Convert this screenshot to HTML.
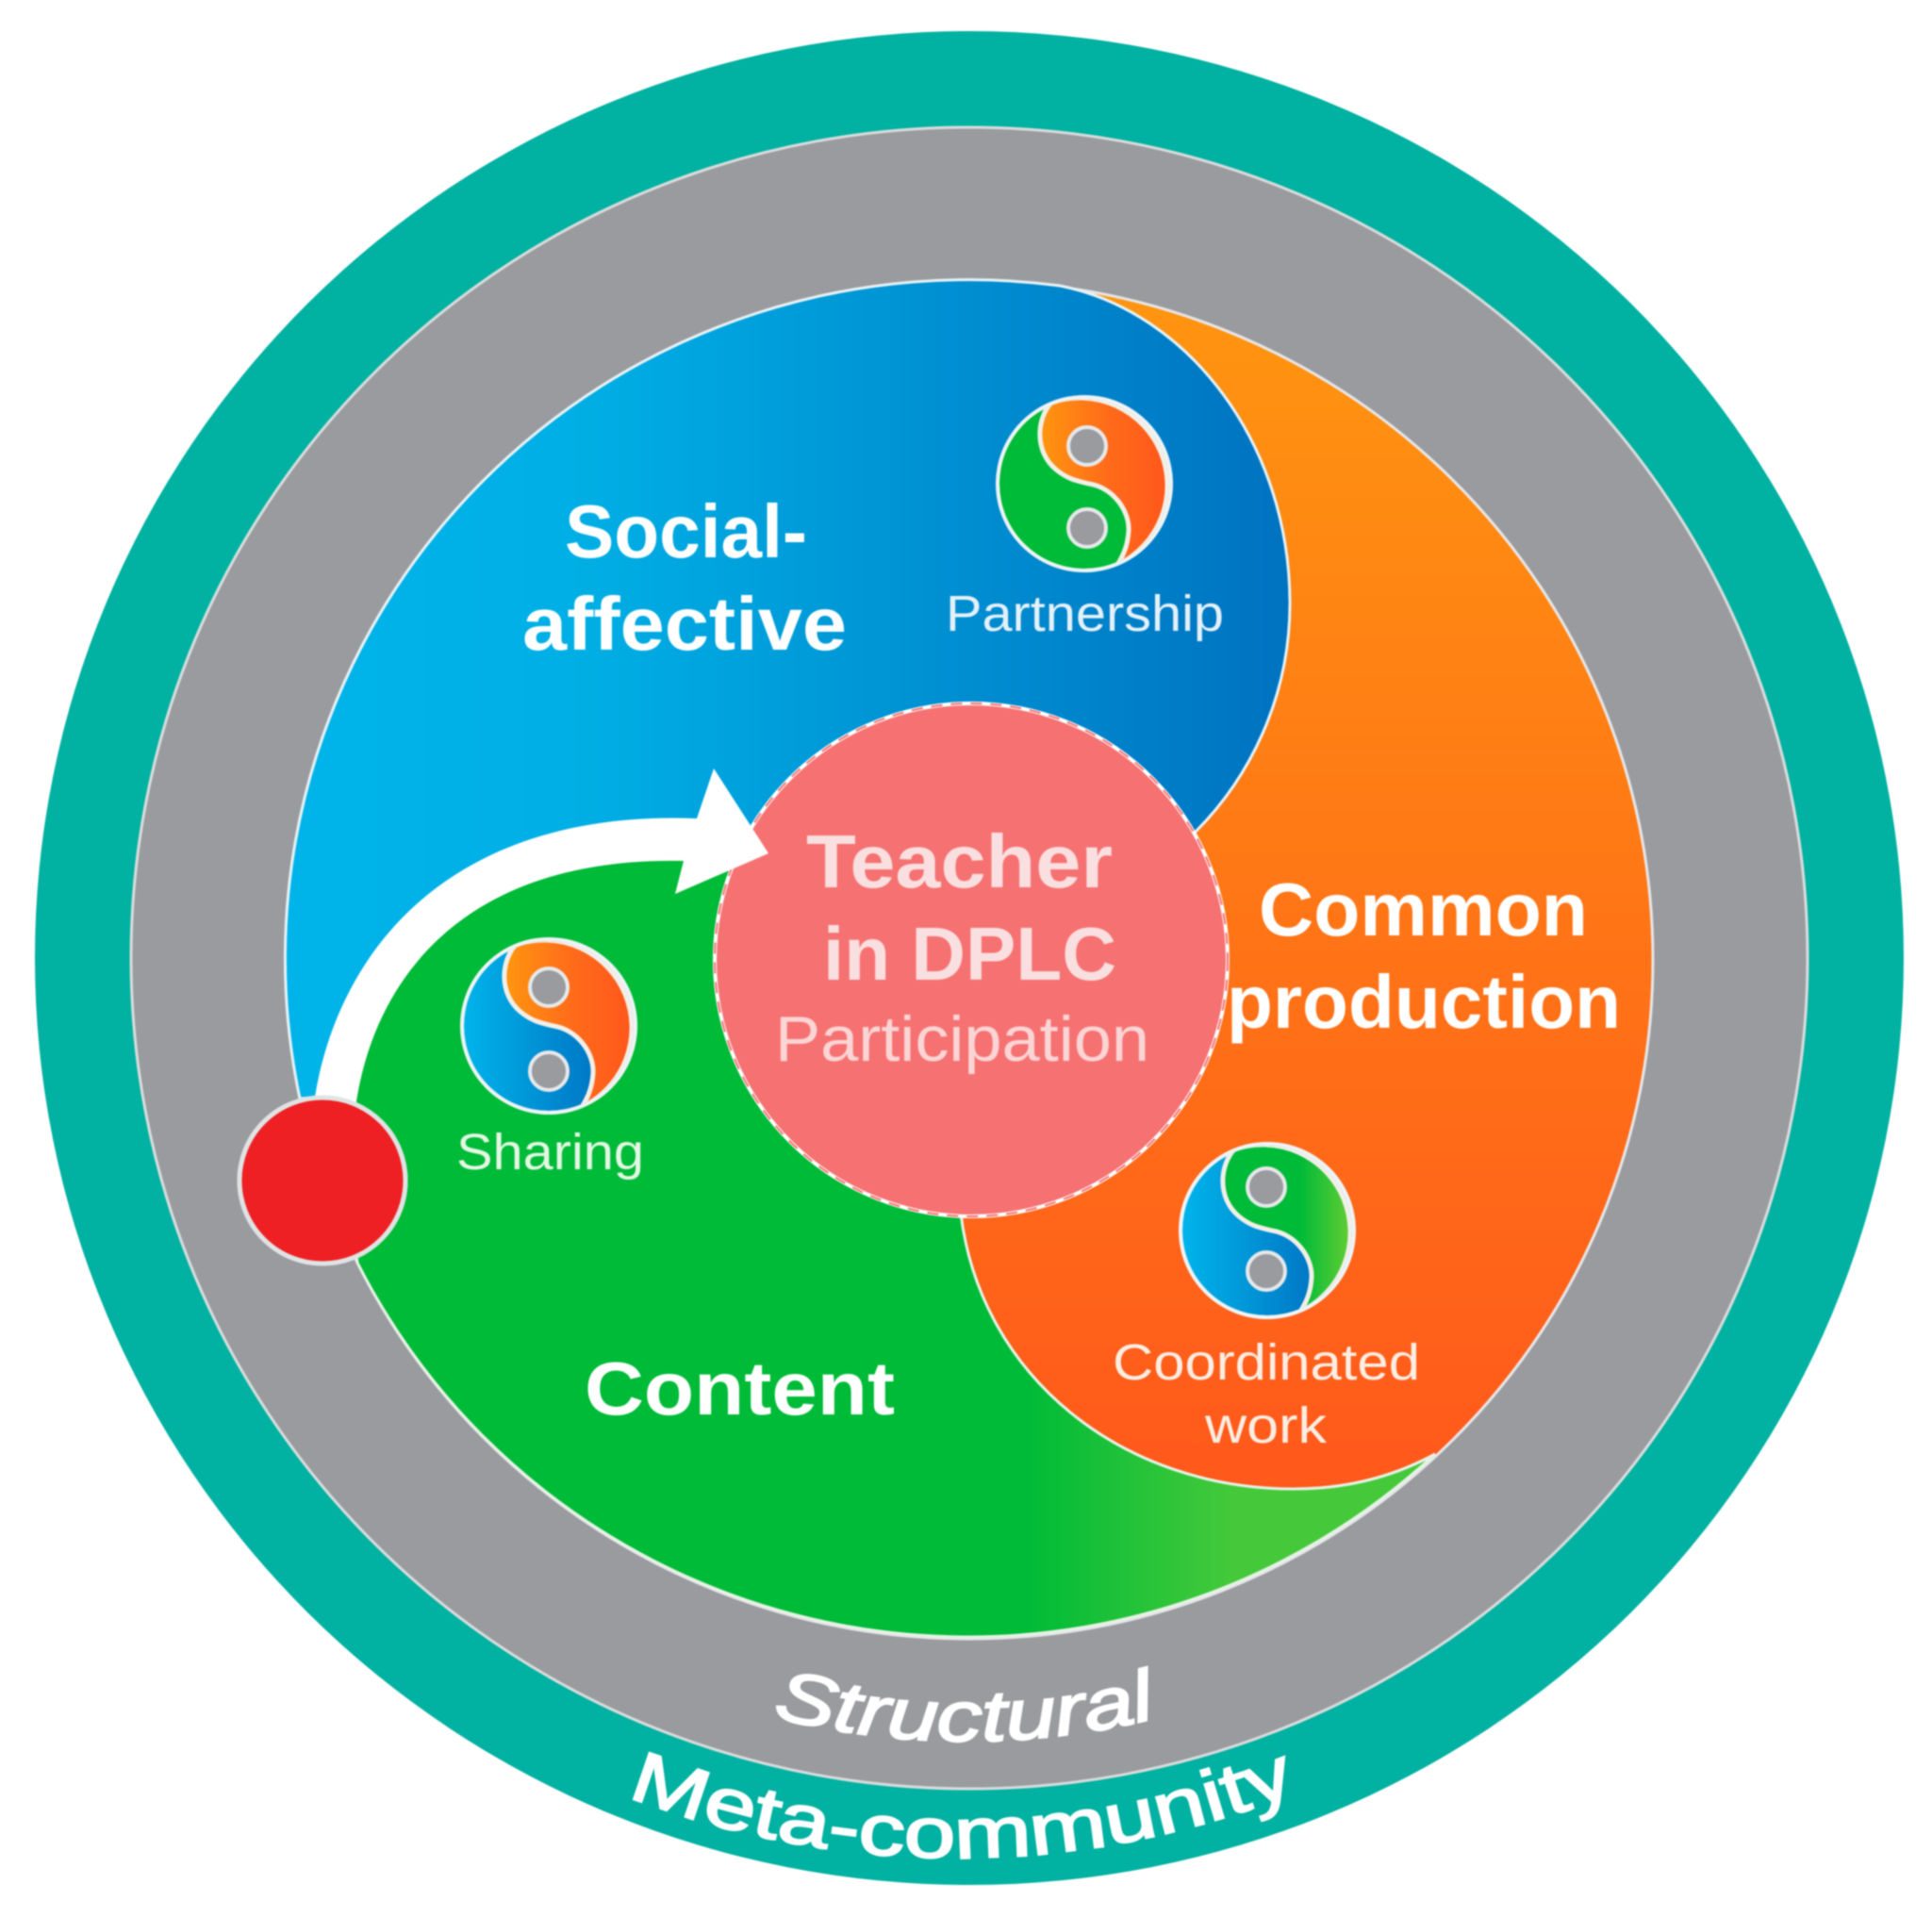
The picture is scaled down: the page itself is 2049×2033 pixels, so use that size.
<!DOCTYPE html>
<html>
<head>
<meta charset="utf-8">
<style>
html,body{margin:0;padding:0;background:#fff;width:2049px;height:2033px;overflow:hidden}
svg{display:block;filter:blur(0.9px)}
text{font-family:"Liberation Sans",sans-serif;fill:#fff}
.b{font-weight:700;font-size:80px}
.r{font-size:54px}
</style>
</head>
<body>
<svg width="2049" height="2033" viewBox="0 0 2049 2033" xmlns="http://www.w3.org/2000/svg">
<defs>
<linearGradient id="blue" gradientUnits="userSpaceOnUse" x1="303" y1="0" x2="1368" y2="0"><stop offset="0" stop-color="#00b4ea"/><stop offset="0.3" stop-color="#00aee4"/><stop offset="1" stop-color="#0072c0"/></linearGradient>
<linearGradient id="orange" gradientUnits="userSpaceOnUse" x1="0" y1="303" x2="0" y2="1579"><stop offset="0" stop-color="#ff9510"/><stop offset="1" stop-color="#ff581b"/></linearGradient>
<linearGradient id="green" gradientUnits="userSpaceOnUse" x1="1090" y1="0" x2="1310" y2="0"><stop offset="0" stop-color="#00bb37"/><stop offset="1" stop-color="#45c93a"/></linearGradient>
<linearGradient id="iBlue" gradientUnits="userSpaceOnUse" x1="-90" y1="0" x2="50" y2="0"><stop offset="0" stop-color="#00b4ea"/><stop offset="1" stop-color="#0076c4"/></linearGradient>
<linearGradient id="iOrange" gradientUnits="userSpaceOnUse" x1="-45" y1="0" x2="85" y2="0"><stop offset="0" stop-color="#ff9510"/><stop offset="0.55" stop-color="#ff6a1a"/><stop offset="1" stop-color="#ff581b"/></linearGradient>
<linearGradient id="iGreen" gradientUnits="userSpaceOnUse" x1="35" y1="0" x2="85" y2="0"><stop offset="0" stop-color="#00bb37"/><stop offset="1" stop-color="#5ccc34"/></linearGradient>
<clipPath id="ic"><circle r="90"/></clipPath>
<path id="arcS" d="M819,1820.6 A830,825 0 0 0 1379,1768"/>
<path id="arcM" d="M665,1905 A960,952 0 0 0 1540,1815"/>
<path id="yR" d="M-35,-86 C-50,-70 -54,-35 -30,-15 C-18,-5 -8,-3 5,0 C30,4 48,28 47,50 C46,65 42,75 35,86 A93,93 0 0 0 -35,-86 Z"/>
</defs>

<rect width="2049" height="2033" fill="#fff"/>
<ellipse cx="1028" cy="1016" rx="991" ry="983" fill="#01b1a1"/>
<ellipse cx="1028" cy="1016" rx="889" ry="881" fill="#9a9b9f" stroke="#d9dcdc" stroke-width="3"/>

<ellipse cx="1028" cy="1018" rx="725" ry="720" fill="url(#orange)" stroke="#e6e6e8" stroke-width="3"/>

<path d="M1124,303 A725,720 0 0 0 318,1165 L355,1163 C380,1022 485,890 732,890 L1030,1018 L1268,882 C1325,825 1368,740 1368,640 C1368,470 1260,330 1124,303 Z" fill="url(#blue)" stroke="#e6f2f6" stroke-width="3"/>

<path d="M379,1339 L355,1163 C380,1022 485,890 732,890 L1030,1018 L1019,1287 C1040,1460 1190,1579 1372,1579 C1430,1579 1480,1565 1522,1542 A725,720 0 0 1 379,1339 Z" fill="url(#green)" stroke="#e6f2e6" stroke-width="3"/>

<circle cx="342" cy="1252" r="88" fill="#ee2024" stroke="#dfe3e3" stroke-width="5"/>

<circle cx="1030" cy="1018" r="272" fill="#f67272" stroke="#fff" stroke-width="4"/>
<circle cx="1030" cy="1018" r="272" fill="none" stroke="#f67272" stroke-width="2" stroke-dasharray="12 9"/>

<path d="M334,1163 C360,1005 480,858 739,868 L757,815 L815,905 L716,948 L725,913 C490,908 398,1040 378,1168 L372,1190 L330,1180 Z" fill="#fff"/>
<circle cx="342" cy="1252" r="88" fill="#ee2024" stroke="#dfe3e3" stroke-width="5"/>

<g transform="translate(1150,513)">
<circle r="94" fill="#eef3f5"/>
<g clip-path="url(#ic)">
<circle r="90" fill="#00bb37"/>
<use href="#yR" fill="url(#iOrange)" stroke="#f2efe8" stroke-width="5"/>
</g>
<circle cx="3" cy="-40" r="20" fill="#9a9b9f" stroke="#e6e8ea" stroke-width="4"/>
<circle cx="3" cy="47" r="20" fill="#9a9b9f" stroke="#e6e8ea" stroke-width="4"/>
</g>
<g transform="translate(582,1088)">
<circle r="94" fill="#eef3f5"/>
<g clip-path="url(#ic)">
<circle r="90" fill="url(#iBlue)"/>
<use href="#yR" fill="url(#iOrange)" stroke="#f2efe8" stroke-width="5"/>
</g>
<circle cx="0" cy="-41" r="20" fill="#9a9b9f" stroke="#e6e8ea" stroke-width="4"/>
<circle cx="0" cy="48" r="20" fill="#9a9b9f" stroke="#e6e8ea" stroke-width="4"/>
</g>
<g transform="translate(1344,1305)">
<circle r="94" fill="#eef3f5"/>
<g clip-path="url(#ic)">
<circle r="90" fill="url(#iBlue)"/>
<use href="#yR" fill="url(#iGreen)" stroke="#f2efe8" stroke-width="5"/>
</g>
<circle cx="-1" cy="-46" r="20" fill="#9a9b9f" stroke="#e6e8ea" stroke-width="4"/>
<circle cx="-1" cy="43" r="20" fill="#9a9b9f" stroke="#e6e8ea" stroke-width="4"/>
</g>

<text class="b" x="599" y="591" textLength="257" lengthAdjust="spacingAndGlyphs">Social-</text>
<text class="b" x="554" y="689" textLength="344" lengthAdjust="spacingAndGlyphs">affective</text>
<text class="b" x="1335" y="992" textLength="349" lengthAdjust="spacingAndGlyphs">Common</text>
<text class="b" x="1301" y="1090" textLength="418" lengthAdjust="spacingAndGlyphs">production</text>
<text class="b" x="620" y="1500" textLength="329" lengthAdjust="spacingAndGlyphs">Content</text>

<text class="b" x="855" y="941" textLength="325" lengthAdjust="spacingAndGlyphs" style="fill:#f9dfe0">Teacher</text>
<text class="b" x="873" y="1039" textLength="311" lengthAdjust="spacingAndGlyphs" style="fill:#f9dfe0">in DPLC</text>
<text x="822" y="1125" font-size="68" textLength="397" lengthAdjust="spacingAndGlyphs" style="fill:#fbd5d5">Participation</text>

<text class="r" x="1003" y="669" textLength="295" lengthAdjust="spacingAndGlyphs" style="fill:#e4f1f9">Partnership</text>
<text class="r" x="484" y="1240" textLength="199" lengthAdjust="spacingAndGlyphs" style="fill:#e4f7e4">Sharing</text>
<text class="r" x="1180" y="1463" textLength="326" lengthAdjust="spacingAndGlyphs" style="fill:#fdeee4">Coordinated</text>
<text class="r" x="1278" y="1530" textLength="129" lengthAdjust="spacingAndGlyphs" style="fill:#fdeee4">work</text>

<text font-size="76" font-style="italic" stroke="#fff" stroke-width="2"><textPath href="#arcS" textLength="412" lengthAdjust="spacingAndGlyphs">Structural</textPath></text>
<text font-size="76" stroke="#fff" stroke-width="2"><textPath href="#arcM" textLength="728" lengthAdjust="spacingAndGlyphs">Meta-community</textPath></text>
</svg>
</body>
</html>
